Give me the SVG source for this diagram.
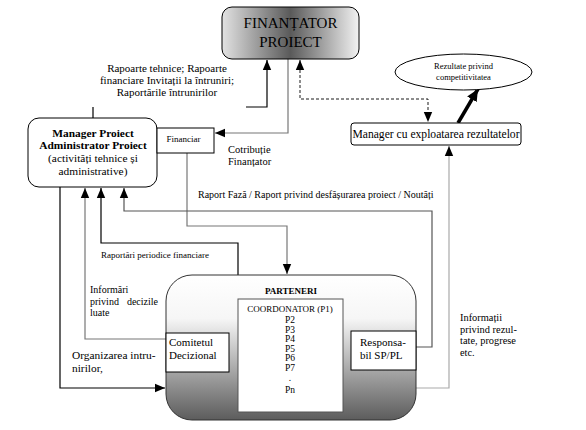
<svg xmlns="http://www.w3.org/2000/svg" width="586" height="430" viewBox="0 0 586 430" font-family="'Liberation Serif', 'Times New Roman', 'DejaVu Serif', serif">
<defs>
<linearGradient id="gFin" x1="0" y1="0" x2="1" y2="0">
<stop offset="0" stop-color="#e2e2e2"/>
<stop offset="0.5" stop-color="#5a5a5a"/>
<stop offset="1" stop-color="#f2f2f2"/>
</linearGradient>
<linearGradient id="gPart" x1="0" y1="0" x2="0" y2="1">
<stop offset="0" stop-color="#ffffff"/>
<stop offset="0.3" stop-color="#f6f6f6"/>
<stop offset="1" stop-color="#5c5c5c"/>
</linearGradient>
<marker id="ah" markerUnits="userSpaceOnUse" markerWidth="10" markerHeight="10" viewBox="0 0 10 10" refX="10" refY="5" orient="auto">
<path d="M0,0.8 L10,5 L0,9.2 Z" fill="#000"/>
</marker>
<marker id="ahs" markerUnits="userSpaceOnUse" markerWidth="10" markerHeight="10" viewBox="0 0 10 10" refX="10" refY="5" orient="auto-start-reverse">
<path d="M0,0.8 L10,5 L0,9.2 Z" fill="#000"/>
</marker>
<marker id="ahb" markerUnits="userSpaceOnUse" markerWidth="12" markerHeight="12" viewBox="0 0 12 12" refX="12" refY="6" orient="auto">
<path d="M0,0.5 L12,6 L0,11.5 Z" fill="#000"/>
</marker>
</defs>
<style>
text{fill:#000}
.box{fill:#fff;stroke:#000;stroke-width:1}
.c{fill:none;stroke-width:1.2}
.k{stroke:#000}
.g{stroke:#777}
.lg{stroke:#aaa}
.m{text-anchor:middle}
</style>

<g id="connectors">
<polyline class="c k" points="246,107 267,107 267,60" marker-end="url(#ah)"/>
<polyline class="c g" points="288,59 288,133 215,133" marker-end="url(#ah)"/>
<polyline fill="none" stroke="#000" stroke-width="0.9" stroke-dasharray="3,2" points="300,60 300,99 428,99 428,122" marker-start="url(#ahs)" marker-end="url(#ah)"/>
<line x1="458" y1="123" x2="478" y2="89" stroke="#000" stroke-width="3.5" marker-end="url(#ahb)"/>
<line class="c k" x1="93" y1="107" x2="93" y2="118"/>
<polyline class="c g" points="187,153 187,226 287,226 287,274" marker-end="url(#ah)"/>
<polyline class="c" stroke="#555" points="416,347 432,347 432,211 124,211 124,188" marker-end="url(#ah)"/>
<polyline class="c k" points="238,275 238,243 101,243 101,188" marker-end="url(#ah)"/>
<polyline class="c g" points="166,339 85,339 85,188" marker-end="url(#ah)"/>
<polyline class="c k" points="60,187 60,388 165,388" marker-end="url(#ah)"/>
<polyline class="c lg" points="416,388 449,388 449,146" marker-end="url(#ah)"/>
</g>

<g id="finantator">
<rect x="222" y="7" width="137" height="52" rx="10" fill="url(#gFin)" stroke="#000"/>
<text class="m" x="290.5" y="28" font-size="15">FINANȚATOR</text>
<text class="m" x="290.5" y="47" font-size="15">PROIECT</text>
</g>

<g id="rezultate">
<ellipse cx="463.5" cy="72" rx="68.5" ry="18" fill="#fff" stroke="#000"/>
<text class="m" x="463.5" y="69" font-size="8.5">Rezultate privind</text>
<text class="m" x="463.5" y="80" font-size="8.5">competitivitatea</text>
</g>

<g id="manager-exploatare">
<rect class="box" x="351" y="123" width="170" height="22" rx="3"/>
<text class="m" x="436" y="138" font-size="11.6">Manager cu exploatarea rezultatelor</text>
</g>

<g id="manager-proiect">
<rect class="box" x="28" y="118" width="129" height="69" rx="11"/>
<text class="m" x="93" y="137" font-size="11.4" font-weight="bold">Manager Proiect</text>
<text class="m" x="93" y="149" font-size="11.4" font-weight="bold">Administrator Proiect</text>
<text class="m" x="93" y="162" font-size="11.4">(activități tehnice și</text>
<text class="m" x="93" y="175" font-size="11.4">administrative)</text>
</g>

<g id="financiar">
<rect class="box" x="157" y="128" width="57" height="25"/>
<text class="m" x="183.5" y="142" font-size="9">Financiar</text>
</g>

<g id="parteneri">
<rect x="166" y="275" width="250" height="145" rx="26" fill="url(#gPart)" stroke="#333"/>
<text class="m" x="291" y="294" font-size="9" font-weight="bold">PARTENERI</text>
<rect x="238" y="299" width="105" height="113" fill="#fff" stroke="#555"/>
<text class="m" x="290" y="312" font-size="9">COORDONATOR (P1)</text>
<text class="m" x="290" y="323" font-size="9.5">P2</text>
<text class="m" x="290" y="333" font-size="9.5">P3</text>
<text class="m" x="290" y="342" font-size="9.5">P4</text>
<text class="m" x="290" y="352" font-size="9.5">P5</text>
<text class="m" x="290" y="361" font-size="9.5">P6</text>
<text class="m" x="290" y="371" font-size="9.5">P7</text>
<text class="m" x="290" y="381" font-size="9.5">.</text>
<text class="m" x="290" y="393" font-size="9.5">Pn</text>
</g>

<g id="comitetul">
<rect class="box" x="166" y="333" width="63" height="39"/>
<text x="169" y="346" font-size="11">Comitetul</text>
<text x="169" y="359" font-size="11">Decizional</text>
</g>

<g id="responsabil">
<rect class="box" x="351" y="331" width="65" height="39"/>
<text x="360" y="346" font-size="11">Responsa-</text>
<text x="360" y="359" font-size="11">bil SP/PL</text>
</g>

<g id="labels">
<text class="m" x="167" y="72" font-size="11">Rapoarte tehnice; Rapoarte</text>
<text class="m" x="167" y="84" font-size="11">financiare Invitații la întruniri;</text>
<text class="m" x="167" y="96" font-size="11">Raportările întrunirilor</text>
<text x="228" y="153" font-size="10.5">Cotribuție</text>
<text x="228" y="165" font-size="10.5">Finanțator</text>
<text x="198" y="198" font-size="10">Raport Fază / Raport privind desfășurarea proiect / Noutăți</text>
<text x="101" y="258" font-size="9">Raportări periodice financiare</text>
<text x="90" y="293" font-size="10">Informări</text>
<text x="90" y="305" font-size="10">privind<tspan x="158" text-anchor="end">decizile</tspan></text>
<text x="90" y="316" font-size="10">luate</text>
<text x="72" y="359" font-size="11.4">Organizarea intru-</text>
<text x="72" y="372" font-size="11.4">nirilor,</text>
<text x="460" y="321" font-size="10.4">Informații</text>
<text x="460" y="333" font-size="10.4">privind rezul-</text>
<text x="460" y="344" font-size="10.4">tate, progrese</text>
<text x="460" y="356" font-size="10.4">etc.</text>
</g>
</svg>
